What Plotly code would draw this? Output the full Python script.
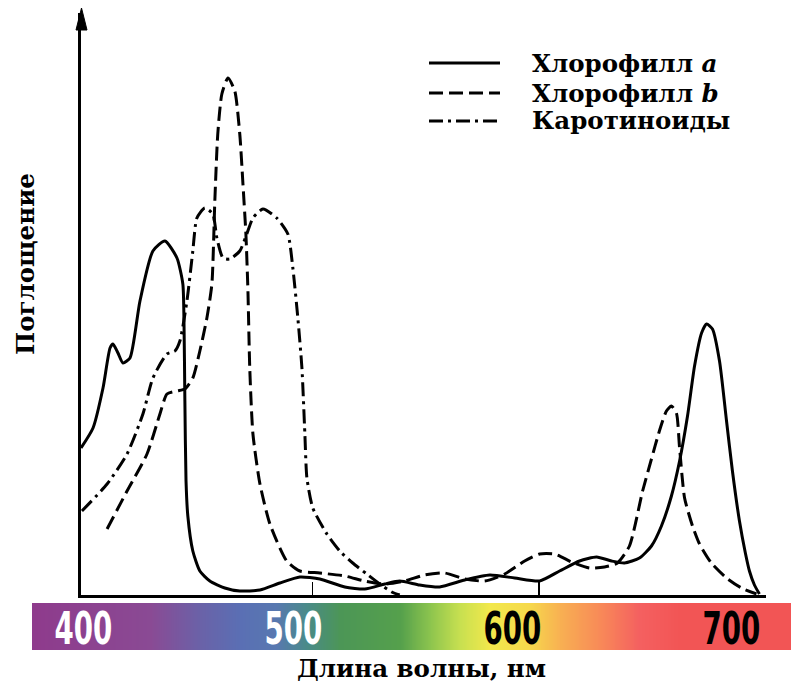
import numpy as np
import plotly.graph_objects as go

# ---------------- data ----------------
chl_a_wl = [398, 403.3, 407.7, 410.8, 412.1, 414.3, 416.5, 419.6, 424.0, 429.7, 435.0, 440.3,
            442.9, 443.4, 443.8, 444.3, 445.1, 447.3, 450.4, 454.8, 461.4, 468.0, 476.9, 485.7,
            494.5, 503.3, 514.3, 523.1, 531.9, 538.5, 547.3, 556.1, 567.2, 578.2, 589.2, 600.2,
            609.0, 617.8, 625.3, 631.9, 637.6, 644.2, 649.5, 653.9, 658.3, 661.9, 665.4, 668.5,
            671.6, 673.8, 676.4, 679.5, 682.6, 685.2, 688.3, 690.9, 692.7, 694.9, 697.1]
chl_a_abs = [29.4, 33.4, 41.4, 49.4, 50.2, 48.4, 46.4, 47.4, 58.8, 68.8, 70.8, 67.4,
             62.2, 54.8, 38.8, 22.8, 15.8, 8.8, 4.8, 2.8, 1.4, 0.8, 1.0, 2.4,
             3.6, 3.2, 1.6, 1.2, 2.2, 2.8, 2.0, 1.6, 3.0, 4.0, 3.4, 2.8,
             4.8, 6.8, 7.6, 6.8, 6.4, 7.4, 9.8, 13.8, 19.8, 26.8, 35.8, 45.8,
             52.4, 54.2, 53.2, 46.8, 34.8, 24.8, 14.8, 8.4, 4.8, 2.0, 0.2]

chl_b_wl = [409.5, 418.3, 427.1, 432.8, 435.9, 440.3, 443.8, 447.3, 450.4, 453.5, 455.7, 457.0,
            458.3, 460.1, 462.8, 465.8, 468.0, 469.4, 470.7, 471.6, 472.4, 473.8, 476.9, 481.3,
            488.7, 494.5, 503.3, 514.3, 523.1, 531.9, 540.7, 549.5, 558.3, 567.2, 576.0, 584.8,
            593.6, 600.2, 606.8, 614.3, 622.2, 628.8, 634.5, 639.8, 645.6, 649.5, 653.0, 656.1,
            658.3, 660.5, 661.9, 664.1, 667.6, 670.7, 675.9, 682.6, 689.2, 695.8]
chl_b_abs = [13.2, 20.8, 28.2, 36.2, 40.2, 40.8, 41.2, 43.4, 48.8, 55.4, 62.2, 78.8,
             92.2, 100.2, 103.4, 100.8, 92.2, 82.2, 72.2, 60.8, 45.4, 32.2, 22.2, 14.2,
             6.8, 4.8, 4.4, 3.8, 2.8, 2.2, 2.8, 4.0, 4.4, 3.2, 2.8, 4.2,
             6.8, 8.2, 8.2, 6.6, 5.4, 5.6, 6.4, 9.8, 20.8, 27.2, 32.8, 36.8,
             37.8, 36.4, 29.4, 19.4, 13.8, 10.2, 6.4, 3.4, 1.4, 0.2]

car_wl = [398.4, 409.5, 418.3, 425.3, 429.7, 435.9, 439.4, 441.6, 444.7, 447.3, 449.1, 452.6,
          456.1, 457.9, 460.6, 463.6, 468.0, 471.1, 473.8, 478.2, 484.3, 489.2, 491.4, 493.6,
          495.4, 496.7, 497.6, 500.2, 506.4, 512.1, 517.8, 524.0, 529.7, 535.0, 538.5]
car_abs = [16.8, 22.2, 28.2, 36.2, 43.4, 48.2, 48.8, 50.8, 58.8, 68.8, 75.4, 77.4,
           76.2, 71.4, 67.4, 67.2, 68.8, 72.2, 75.4, 77.2, 75.4, 72.2, 65.4, 55.4,
           45.4, 32.2, 23.4, 17.4, 12.2, 8.8, 6.4, 4.2, 2.2, 0.6, 0.0]

series_names = ["Хлорофилл <i>a</i>", "Хлорофилл <i>b</i>", "Каротиноиды"]
tick_wl = [500, 600, 700]
band_labels = ["400", "500", "600", "700"]
band_label_colors = ["white", "white", "black", "black"]

# spectrum band colours (stop position along the band, colour)
band_stops = [0.0, 0.155, 0.221, 0.274, 0.320, 0.360, 0.406, 0.485, 0.524, 0.564,
              0.603, 0.656, 0.696, 0.748, 0.801, 0.854, 1.0]
band_colors = ["#8E3B8C", "#8A4A94", "#6A62A8", "#5A6FB4", "#5878B0", "#4A8A8A",
               "#4C9656", "#55A04C", "#8CC44E", "#C8E050", "#F2E84C", "#F6D84C",
               "#F8B052", "#F88A58", "#F46060", "#F25555", "#F25555"]

# ---------------- figure ----------------
W, H = 791, 688
def px(x):
    return x / W
def py(y):
    return (H - y) / H

dashes = ["solid", "14px,6px", "14px,5px,3px,5px"]
fig = go.Figure()
for wl, ab, nm, ds in [(chl_a_wl, chl_a_abs, series_names[0], dashes[0]),
                       (chl_b_wl, chl_b_abs, series_names[1], dashes[1]),
                       (car_wl, car_abs, series_names[2], dashes[2])]:
    fig.add_trace(go.Scatter(x=wl, y=ab, mode="lines", name=nm, showlegend=False,
                             line=dict(color="black", width=3, dash=ds,
                                       shape="spline", smoothing=0.6),
                             xaxis="x", yaxis="y"))

# spectrum band as heatmap on its own axes
ncol = 400
zrow = [list(np.linspace(0, 1, ncol))]
fig.add_trace(go.Heatmap(z=zrow, x=list(range(ncol)), y=[0], xaxis="x2", yaxis="y2",
                         colorscale=[[s, c] for s, c in zip(band_stops, band_colors)],
                         showscale=False, zsmooth="best", hoverinfo="skip"))

fig.update_layout(
    width=W, height=H,
    margin=dict(l=0, r=0, t=0, b=0),
    plot_bgcolor="white", paper_bgcolor="white",
    xaxis=dict(domain=[px(81), px(766)], range=[398, 700], showgrid=False, zeroline=False,
               showline=True, linecolor="black", linewidth=3,
               tickvals=tick_wl, ticks="inside", ticklen=13, tickwidth=1.5, tickcolor="black",
               showticklabels=False, anchor="y"),
    yaxis=dict(domain=[py(595), py(13)], range=[0, (595 - 13) / 5.0], showgrid=False,
               zeroline=False, showline=True, linecolor="black", linewidth=3,
               showticklabels=False, ticks="", anchor="x"),
    xaxis2=dict(domain=[px(32), 1.0], range=[-0.5, ncol - 0.5], visible=False, anchor="y2"),
    yaxis2=dict(domain=[py(650), py(603)], range=[-0.5, 0.5], visible=False, anchor="x2"),
    showlegend=False,
)

# arrow head on the y axis
fig.add_shape(type="path", xref="paper", yref="paper",
              path=f"M {px(81.5)} {py(8)} L {px(76)} {py(30)} L {px(87)} {py(30)} Z",
              fillcolor="black", line=dict(color="black", width=1))

serif = "DejaVu Serif"
tsize = 24.5

# custom legend
leg_y = [63, 93, 121]
for i, (nm, ds) in enumerate(zip(series_names, dashes)):
    fig.add_shape(type="line", xref="paper", yref="paper",
                  x0=px(429), x1=px(500), y0=py(leg_y[i]), y1=py(leg_y[i]),
                  line=dict(color="black", width=3, dash=ds))
    fig.add_annotation(x=px(530), y=py(leg_y[i]), xref="paper", yref="paper",
                       text=nm, showarrow=False, xanchor="left", yanchor="middle",
                       font=dict(family=serif, size=tsize, color="black", weight="bold"))

# spectrum band labels
band_x = [83, 293, 512, 731]
for lab, col, bx in zip(band_labels, band_label_colors, band_x):
    fig.add_annotation(x=px(bx), y=py(628), xref="paper", yref="paper", text=lab,
                       showarrow=False, xanchor="center", yanchor="middle",
                       font=dict(family="Liberation Sans Narrow, DejaVu Sans Condensed, Liberation Sans",
                                 size=44, color=col, weight="bold"))

# axis titles
fig.add_annotation(x=px(421), y=py(668), xref="paper", yref="paper",
                   text="Длина волны, нм", showarrow=False, xanchor="center", yanchor="middle",
                   font=dict(family=serif, size=tsize, color="black", weight="bold"))
fig.add_annotation(x=px(25), y=py(264), xref="paper", yref="paper",
                   text="Поглощение", showarrow=False, textangle=-90,
                   xanchor="center", yanchor="middle",
                   font=dict(family=serif, size=tsize, color="black", weight="bold"))

post = """
document.body.style.margin = '0';
document.querySelectorAll('.annotation-text').forEach(function (t) {
  if (/^\\d+$/.test(t.textContent.trim())) {
    t.style.transformBox = 'fill-box';
    t.style.transformOrigin = 'center';
    t.style.transform = 'scaleX(0.7)';
  }
});
"""

fig.write_html("out.html", post_script=post,
               config={"displayModeBar": False, "staticPlot": True})
